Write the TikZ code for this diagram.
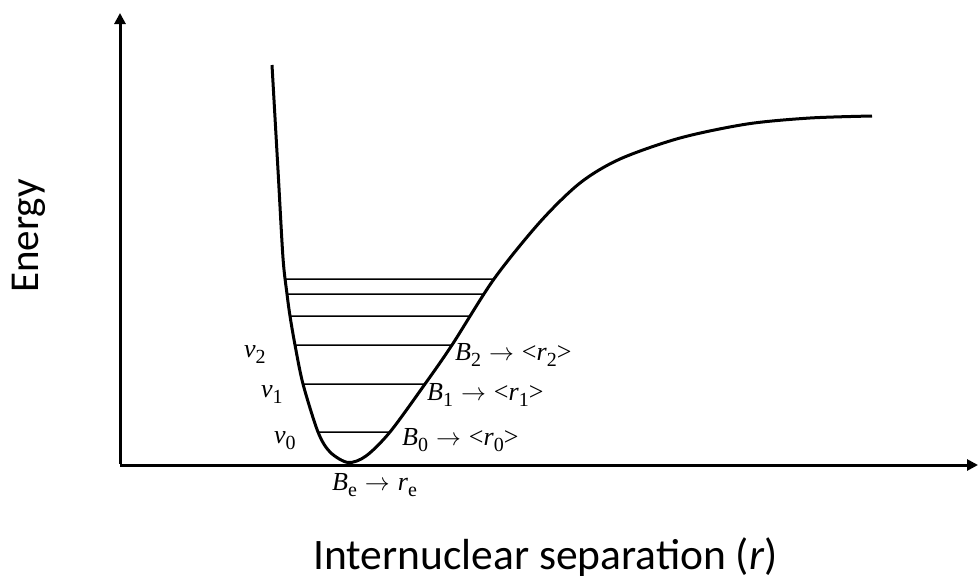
\documentclass[tikz,border=0pt]{standalone}
\usepackage{fontspec}
\setmainfont{Liberation Serif}
\newfontfamily\calib{Carlito}
\usetikzlibrary{arrows.meta,intersections}
\newcommand{\lsub}[1]{\raisebox{-6pt}{\fontsize{20}{20}\selectfont #1}}
\newcommand{\arr}{\hspace{8pt}$\rightarrow$\hspace{8pt}}
\begin{document}
\begin{tikzpicture}[x=1pt,y=-1pt,
  axis/.style={line width=3pt,-{Triangle[length=11pt,width=11pt]}},
  curve/.style={line width=3pt,line join=round},
  level/.style={line width=1.5pt},
  mlabel/.style={anchor=base west,inner sep=0pt,font=\fontsize{26}{26}\selectfont},
  title/.style={inner sep=0pt,anchor=base west}]
\useasboundingbox (0,0) rectangle (978,579);
% axes
\coordinate (O) at (120,465);
\coordinate (Ytop) at (120,13);
\coordinate (Xend) at (978,465);
\draw[axis] ([yshift=1.5pt]O) -- (Ytop);
\draw[axis] (O) -- (Xend);
% potential curve
\draw[curve,name path=pot] plot[smooth,tension=0.5] coordinates {(272,65) (278,170) (283,258) (287,294) (290,316) (295,345) (303,384) (318,432) (330,452) (348,462.5) (366,456) (390,432) (425,384) (452,345) (494,279) (540,222) (580,183) (620,159) (680,138) (747,124) (810,118) (872,116)};
% vibrational levels
\foreach \i/\yy in {1/279,2/294,3/316,4/345,5/384,6/432}{
  \path[name path=h\i] (250,\yy) -- (560,\yy);
  \path[name intersections={of=pot and h\i, by={a\i,b\i}}];
  \draw[level] (a\i) -- (b\i);
}
% labels
\node[mlabel] (v2) at (244,357) {\textit{v}\lsub{2}};
\node[mlabel] (v1) at (261,397) {\textit{v}\lsub{1}};
\node[mlabel] (v0) at (274,443) {\textit{v}\lsub{0}};
\node[mlabel] (B2) at (455,360) {\textit{B}\lsub{2}\arr<\textit{r}\lsub{2}>};
\node[mlabel] (B1) at (427,400) {\textit{B}\lsub{1}\arr<\textit{r}\lsub{1}>};
\node[mlabel] (B0) at (402,445) {\textit{B}\lsub{0}\arr<\textit{r}\lsub{0}>};
\node[mlabel] (Be) at (332,490) {\textit{B}\lsub{e}\arr\textit{r}\lsub{e}};
\node[title,font=\calib\fontsize{43.5}{43.5}\selectfont] (xt) at (313,569) {Internuclear separation (\textit{r})};
\node[title,rotate=90,font=\calib\fontsize{41}{41}\selectfont] (yt) at (38,293) {Energy};
\end{tikzpicture}
\end{document}
